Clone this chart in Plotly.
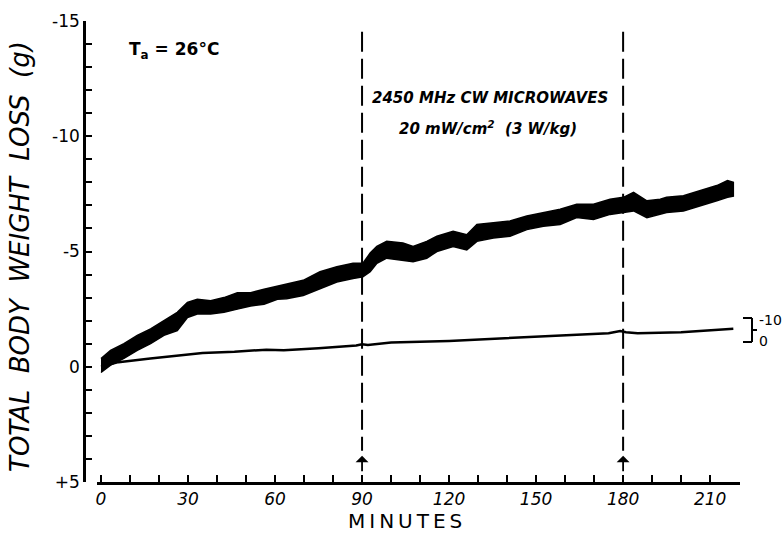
import plotly.graph_objects as go

# ---- data ----
thick_t = [0, 3.3, 7.9, 12.5, 17.1, 21.7, 26.3, 29.8, 33.2, 37.8,
           42.4, 47, 51.6, 56.2, 60.8, 64, 69.7, 75.5, 81.3, 86.9,
           90.3, 92.8, 95.1, 98.5, 104.1, 107.6, 112.3, 115.8, 121.4, 126.1,
           129.6, 135.3, 141, 146.8, 152.5, 158.3, 164, 169.8, 175.5, 180.1,
           183.6, 188.2, 192.8, 195, 200.8, 206.6, 212.3, 216, 218]
thick_top = [-0.35, -0.71, -1.0, -1.36, -1.64, -2.0, -2.36, -2.79, -2.93, -2.86,
             -3.0, -3.21, -3.21, -3.36, -3.5, -3.61, -3.75, -4.12, -4.34, -4.49,
             -4.49, -4.93, -5.22, -5.44, -5.37, -5.22, -5.44, -5.66, -5.88, -5.73,
             -6.17, -6.25, -6.32, -6.54, -6.69, -6.83, -7.05, -7.05, -7.27, -7.35,
             -7.57, -7.2, -7.27, -7.35, -7.42, -7.64, -7.86, -8.08, -8.0]
thick_bot = [0.25, -0.07, -0.36, -0.71, -1.0, -1.36, -1.57, -2.14, -2.29, -2.29,
             -2.36, -2.5, -2.64, -2.71, -2.93, -2.95, -3.09, -3.39, -3.68, -3.83,
             -3.9, -4.12, -4.49, -4.71, -4.63, -4.56, -4.71, -5.0, -5.22, -5.07,
             -5.44, -5.59, -5.66, -5.95, -6.1, -6.17, -6.47, -6.39, -6.61, -6.69,
             -6.76, -6.47, -6.61, -6.69, -6.76, -6.98, -7.2, -7.35, -7.4]

thin_t = [0, 3, 6, 17, 29, 35, 46, 57, 63, 75, 88, 90, 92, 100, 120, 150,
          175, 179, 181, 185, 200, 218]
thin_v = [0, -0.1, -0.2, -0.36, -0.5, -0.6, -0.65, -0.74, -0.72, -0.8, -0.92,
          -0.98, -0.94, -1.05, -1.12, -1.3, -1.45, -1.55, -1.5, -1.45, -1.5, -1.65]

x_ticks = list(range(0, 211, 10))
x_labels = [str(v) if v % 30 == 0 else "" for v in x_ticks]
y_ticks = list(range(-15, 6))
y_label_map = {-15: "-15", -10: "-10", -5: "-5", 0: "0", 5: "+5"}
y_labels = [y_label_map.get(v, "") for v in y_ticks]
exposure_marks = [90, 180]

FONT = "DejaVu Sans"
TS = "\u2009"  # thin space for letter spacing

fig = go.Figure()

# thick noisy trace as a filled band
fig.add_trace(go.Scatter(
    x=thick_t + thick_t[::-1],
    y=thick_top + thick_bot[::-1],
    fill="toself", fillcolor="black", mode="lines",
    line=dict(color="black", width=1.5), hoverinfo="skip", showlegend=False))

# thin trace
fig.add_trace(go.Scatter(
    x=thin_t, y=thin_v, mode="lines",
    line=dict(color="black", width=2.5), showlegend=False))

shapes = []
annotations = []
for m in exposure_marks:
    shapes.append(dict(type="line", xref="x", yref="y", x0=m, x1=m,
                       y0=-14.53, y1=3.64,
                       line=dict(color="black", width=2, dash="20px,7px")))
    annotations.append(dict(x=m, y=3.86, xref="x", yref="y", text="",
                            showarrow=True, arrowhead=1, arrowsize=1.2,
                            arrowwidth=1.8, arrowcolor="black", ax=0, ay=17))


def px_x(p):
    return (p - 84) / 656.0


def px_y(p):
    return (482 - p) / 461.0


# right-hand scale bracket
br = [(743, 318, 752, 318), (752, 318, 752, 342), (743, 342, 752, 342),
      (752, 330, 757, 330)]
for x0, y0, x1, y1 in br:
    shapes.append(dict(type="line", xref="paper", yref="paper",
                       x0=px_x(x0), x1=px_x(x1), y0=px_y(y0), y1=px_y(y1),
                       line=dict(color="black", width=2)))


def label(px, py, text, size, xanchor="center", **font_kw):
    return dict(x=px_x(px), y=px_y(py), xref="paper", yref="paper", text=text,
                showarrow=False, xanchor=xanchor, yanchor="middle",
                font=dict(family=FONT, size=size, color="black", **font_kw))


annotations += [
    label(757, 320, "-10", 14, xanchor="left"),
    label(757, 341, "0", 14, xanchor="left"),
    label(174, 51, "T<sub>a</sub> = 26°C", 17, weight="bold"),
    label(490, 98, "2450 MHz CW MICROWAVES", 15, weight="bold", style="italic"),
    label(488, 128, "20 mW/cm<sup>2</sup>  (3 W/kg)", 15, weight="bold", style="italic"),
    label(405, 521, TS.join("MINUTES"), 20),
]
ytitle = label(20, 257, "TOTAL  BODY  WEIGHT  LOSS  (g)", 26, style="italic")
ytitle["textangle"] = -90
annotations.append(ytitle)

fig.update_layout(
    width=783, height=539,
    margin=dict(l=84, r=43, t=21, b=57),
    paper_bgcolor="white", plot_bgcolor="white",
    shapes=shapes, annotations=annotations,
    xaxis=dict(domain=[(97 - 84) / 656.0, 1], range=[-1.38, 220.3],
               tickvals=x_ticks, ticktext=x_labels,
               ticks="inside", ticklen=7, tickwidth=2, tickcolor="black",
               showline=True, linecolor="black", linewidth=2.5,
               showgrid=False, zeroline=False,
               tickfont=dict(family=FONT, size=17, color="black", style="italic")),
    yaxis=dict(range=[5, -15], anchor="free", position=0,
               tickvals=y_ticks, ticktext=y_labels,
               ticks="inside", ticklen=6, tickwidth=2, tickcolor="black",
               showline=True, linecolor="black", linewidth=2.5,
               showgrid=False, zeroline=False,
               tickfont=dict(family=FONT, size=17, color="black")),
)

fig.write_html("out.html")
